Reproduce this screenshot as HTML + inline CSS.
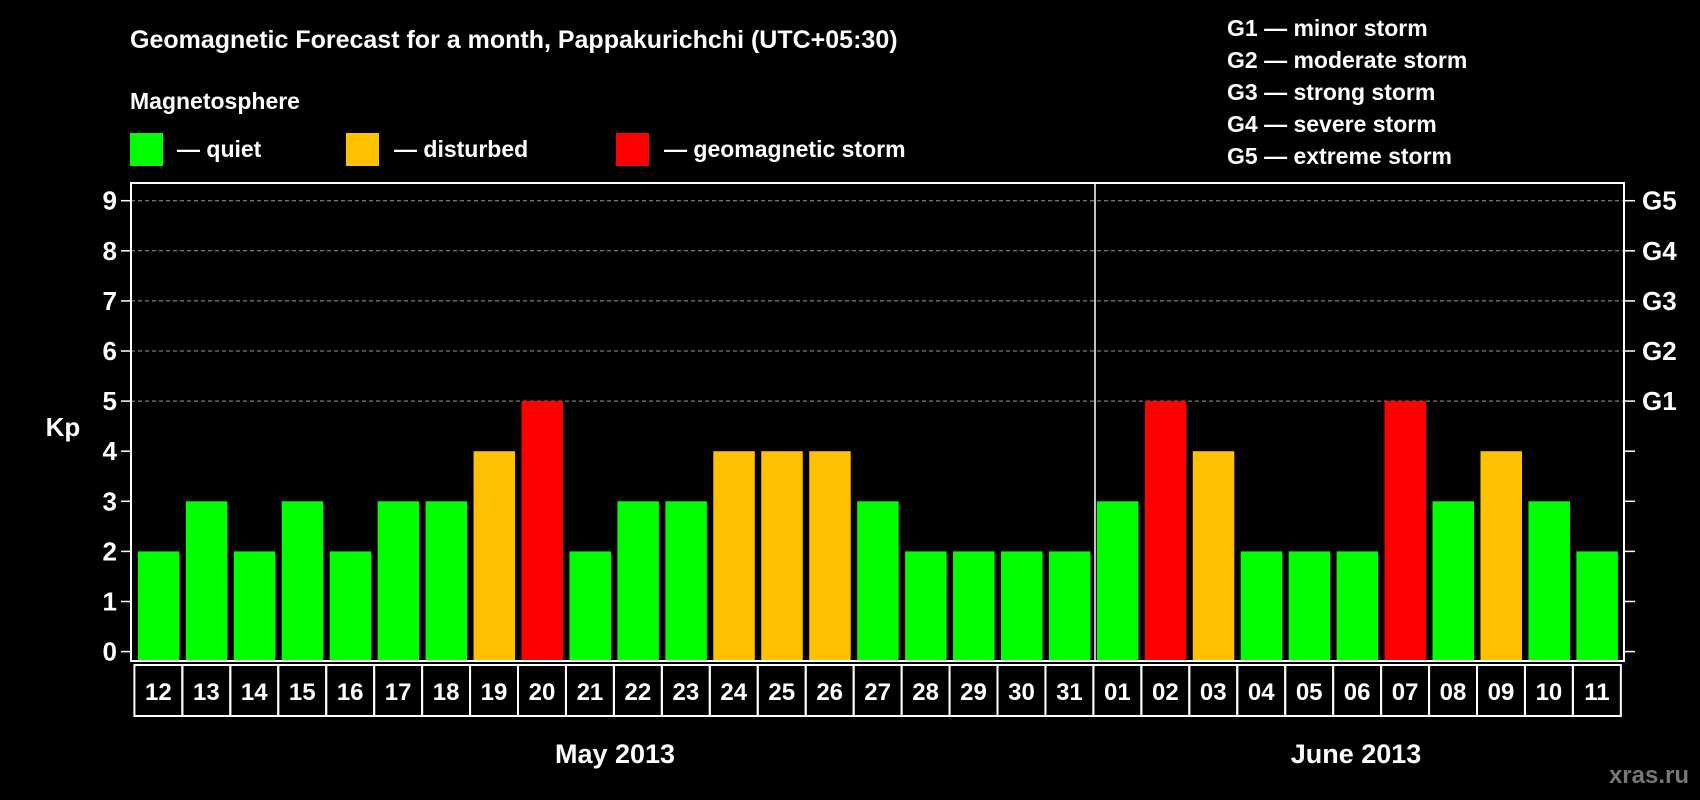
<!DOCTYPE html>
<html><head><meta charset="utf-8"><style>
html,body{margin:0;padding:0;background:#000;}
svg{display:block;font-family:"Liberation Sans",Arial,sans-serif;font-weight:bold;}
</style></head><body>
<svg id="chart" width="1700" height="800" viewBox="0 0 1700 800">
<rect x="0" y="0" width="1700" height="800" fill="#000"/>
<text x="130" y="48" fill="#fff" font-size="25">Geomagnetic Forecast for a month, Pappakurichchi (UTC+05:30)</text>
<text x="130" y="109" fill="#fff" font-size="23">Magnetosphere</text>
<g><rect x="130" y="133" width="33" height="33" fill="#00ff00"/><text x="177" y="157" fill="#fff" font-size="23">— quiet</text></g>
<g><rect x="346" y="133" width="33" height="33" fill="#ffc000"/><text x="394" y="157" fill="#fff" font-size="23">— disturbed</text></g>
<g><rect x="616" y="133" width="33" height="33" fill="#ff0000"/><text x="664" y="157" fill="#fff" font-size="23">— geomagnetic storm</text></g>
<g fill="#fff" font-size="23">
<text x="1227" y="36">G1 — minor storm</text>
<text x="1227" y="68">G2 — moderate storm</text>
<text x="1227" y="100">G3 — strong storm</text>
<text x="1227" y="132">G4 — severe storm</text>
<text x="1227" y="164">G5 — extreme storm</text>
</g>
<text x="63" y="436" fill="#fff" font-size="26" text-anchor="middle">Kp</text>
<g id="grid"></g>
<g id="bars"></g>
<rect x="131" y="183" width="1493" height="478" fill="none" stroke="#fff" stroke-width="2"/>
<line x1="1095" y1="183" x2="1095" y2="661" stroke="#fff" stroke-width="1.5"/>
<g id="xlabels"></g>
<text x="615" y="763" fill="#fff" font-size="27" text-anchor="middle">May 2013</text>
<text x="1356" y="763" fill="#fff" font-size="27" text-anchor="middle">June 2013</text>
<text x="1689" y="783" fill="#777" font-size="24" text-anchor="end">xras.ru</text>
</svg>
<script>
const days = ["12","13","14","15","16","17","18","19","20","21","22","23","24","25","26","27","28","29","30","31","01","02","03","04","05","06","07","08","09","10","11"];
const kpValues = [2,3,2,3,2,3,3,4,5,2,3,3,4,4,4,3,2,2,2,2,3,5,4,2,2,2,5,3,4,3,2];
const yTicks = [0,1,2,3,4,5,6,7,8,9];
const gLabels = ["","","","","","G1","G2","G3","G4","G5"];

const NS="http://www.w3.org/2000/svg";
const y0=651.6, unit=50.1, slotLeft=134.4, pitch=47.95, barW=41.5;
function yScale(v){return y0 - v*unit;}
function xScale(i){return slotLeft + i*pitch;}
function color(v){return v>=5?"#ff0000":(v>=4?"#ffc000":"#00ff00");}
function mk(tag,attrs,parent){const e=document.createElementNS(NS,tag);for(const k in attrs)e.setAttribute(k,attrs[k]);parent.appendChild(e);return e;}

const grid=document.getElementById("grid");
yTicks.forEach((t,i)=>{
  const y=yScale(t);
  if(t>=5){
    const gl=mk("line",{x1:131,x2:1624,y1:y,y2:y,stroke:"#999","stroke-width":1,"stroke-dasharray":"4,3"},grid);
    
    
  }
  const lt=mk("line",{x1:121,x2:131,y1:y,y2:y,stroke:"#fff","stroke-width":1.5},grid);
  
  
  const rt=mk("line",{x1:1624,x2:1635,y1:y,y2:y,stroke:"#fff","stroke-width":1.5},grid);
  
  
  const tl=mk("text",{x:117,y:y+9,fill:"#fff","font-size":26,"text-anchor":"end"},grid);
  tl.textContent=t;
  
  
  if(gLabels[i]){
    const g=mk("text",{x:1642,y:y+9,fill:"#fff","font-size":26},grid);
    g.textContent=gLabels[i];
    
    
  }
});

const bars=document.getElementById("bars");
const xl=document.getElementById("xlabels");
kpValues.forEach((v,i)=>{
  const x=xScale(i)+3.5;
  const r=mk("rect",{x:x,y:yScale(v),width:barW,height:661-yScale(v),fill:color(v)},bars);
  
  
});
days.forEach((d,i)=>{
  const x=xScale(i);
  const b=mk("rect",{x:x,y:665,width:pitch,height:51,fill:"none",stroke:"#fff","stroke-width":2},xl);
  
  
  const t=mk("text",{x:x+pitch/2,y:700,fill:"#fff","font-size":24,"text-anchor":"middle"},xl);
  t.textContent=d;
  
  
});
</script>
</body></html>
